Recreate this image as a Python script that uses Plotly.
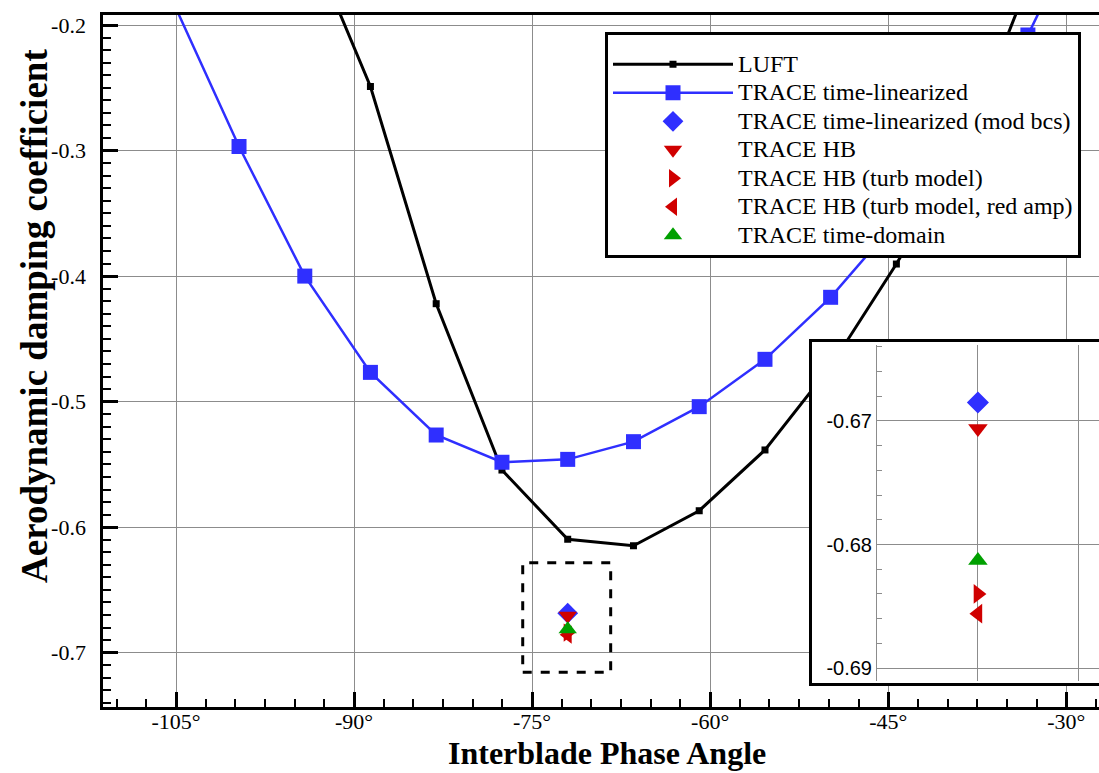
import plotly.graph_objects as go

W, H = 1099, 773

# ---------------- data ----------------
luft_x = [-94.15, -88.62, -83.08, -77.54, -72.00, -66.46, -60.92, -55.38, -49.85, -44.31, -38.77, -33.23]
luft_y = [-0.124, -0.249, -0.422, -0.5545, -0.6097, -0.6148, -0.5869, -0.5385, -0.472, -0.3904, -0.300, -0.167]

tl_x = [-105.23, -99.69, -94.15, -88.62, -83.08, -77.54, -72.00, -66.46, -60.92, -55.38, -49.85, -44.31, -38.77, -33.23, -27.69]
tl_y = [-0.182, -0.2968, -0.400, -0.4767, -0.5266, -0.5483, -0.546, -0.5319, -0.504, -0.4663, -0.4169, -0.3564, -0.288, -0.208, -0.10]

pt_x = [-72.00]
tl_mod_y = [-0.6685]
hb_y = [-0.6706]
hb_turb_y = [-0.6840]
hb_turb_red_y = [-0.6856]
td_y = [-0.6813]

series_names = ["LUFT", "TRACE time-linearized", "TRACE time-linearized (mod bcs)", "TRACE HB",
                "TRACE HB (turb model)", "TRACE HB (turb model, red amp)", "TRACE time-domain"]

x_tickvals = [-105, -90, -75, -60, -45, -30]
x_ticktext = ["-105°", "-90°", "-75°", "-60°", "-45°", "-30°"]
y_tickvals = [-0.7, -0.6, -0.5, -0.4, -0.3, -0.2]
y_ticktext = ["-0.7", "-0.6", "-0.5", "-0.4", "-0.3", "-0.2"]
inset_tickvals = [-0.69, -0.68, -0.67]
inset_ticktext = ["-0.69", "-0.68", "-0.67"]

zoom_box = dict(x0=-75.79, x1=-68.38, y0=-0.7156, y1=-0.6283)

# ---------------- styles ----------------
BLUE = "#2f2fff"
RED = "#d00000"
GREEN = "#00a000"
GRID = "#8c8c8c"
SERIF = "Liberation Serif, Times New Roman, serif"
SANS = "Liberation Sans, Arial, sans-serif"


def px_x(p):
    return p / W


def px_y(p):
    return 1 - p / H


def leg(name):
    return '<span style="font-size:24px">' + name + '</span>'


fig = go.Figure()

point_series = [
    (series_names[2], tl_mod_y, "diamond", BLUE),
    (series_names[3], hb_y, "triangle-down", RED),
    (series_names[4], hb_turb_y, "triangle-right", RED),
    (series_names[5], hb_turb_red_y, "triangle-left", RED),
    (series_names[6], td_y, "triangle-up", GREEN),
]

fig.add_trace(go.Scatter(x=luft_x, y=luft_y, name=leg(series_names[0]), mode="lines+markers",
                         line=dict(color="black", width=3),
                         marker=dict(symbol="square", size=7, color="black"),
                         xaxis="x", yaxis="y"))
fig.add_trace(go.Scatter(x=tl_x, y=tl_y, name=leg(series_names[1]), mode="lines+markers",
                         line=dict(color=BLUE, width=2.5),
                         marker=dict(symbol="square", size=15, color=BLUE),
                         xaxis="x", yaxis="y"))
for name, yv, sym, col in point_series:
    fig.add_trace(go.Scatter(x=pt_x, y=yv, name=leg(name), mode="markers",
                             marker=dict(symbol=sym, size=16, color=col),
                             xaxis="x", yaxis="y"))

# frame subplot (white box of the inset)
fig.add_trace(go.Scatter(x=[None], y=[None], showlegend=False, hoverinfo="skip",
                         xaxis="x2", yaxis="y2"))
# inset data
for name, yv, sym, col in point_series:
    fig.add_trace(go.Scatter(x=pt_x, y=yv, name=name, mode="markers", showlegend=False,
                             marker=dict(symbol=sym, size=17, color=col),
                             xaxis="x3", yaxis="y3"))

main_tick = dict(ticks="inside", ticklen=15, tickwidth=3, tickcolor="black",
                 showline=True, linewidth=3, linecolor="black",
                 showgrid=True, gridcolor=GRID, gridwidth=1, zeroline=False,
                 tickfont=dict(family=SERIF, size=22, color="black"), automargin=False)

fig.update_layout(
    width=W, height=H, autosize=False,
    margin=dict(l=0, r=0, t=0, b=0),
    paper_bgcolor="white", plot_bgcolor="white",
    font=dict(family=SERIF, color="black"),
    xaxis=dict(domain=[px_x(103.3), 1.0], range=[-111.125, -27.24], anchor="y",
               tickmode="array", tickvals=x_tickvals, ticktext=x_ticktext, mirror=True,
               ticklabelstandoff=-7,
               minor=dict(dtick=2.5, tick0=-105, ticks="inside", ticklen=8, tickwidth=1.5,
                          tickcolor="black", showgrid=False),
               **main_tick),
    yaxis=dict(domain=[px_y(706.7), px_y(15)], range=[-0.74301, -0.19203], anchor="x",
               tickmode="array", tickvals=y_tickvals, ticktext=y_ticktext, mirror=False,
               ticklabelstandoff=10,
               minor=dict(dtick=0.01, tick0=-0.7, ticks="inside", ticklen=8, tickwidth=1.5,
                          tickcolor="black", showgrid=False),
               **main_tick),
    xaxis2=dict(domain=[px_x(812), 1.0], range=[0, 1], anchor="y2",
                showline=True, mirror=True, linewidth=3, linecolor="black",
                showgrid=False, zeroline=False, showticklabels=False, ticks=""),
    yaxis2=dict(domain=[px_y(683), px_y(342)], range=[0, 1], anchor="x2",
                showline=True, mirror=False, linewidth=3, linecolor="black",
                showgrid=False, zeroline=False, showticklabels=False, ticks=""),
    xaxis3=dict(domain=[px_x(877), 1.0], range=[-73, -70.80], anchor="y3",
                tickmode="array", tickvals=[-73, -72, -71], showticklabels=False, ticks="",
                showgrid=True, gridcolor=GRID, gridwidth=1, zeroline=False, showline=False),
    yaxis3=dict(domain=[px_y(681), px_y(345)], range=[-0.69105, -0.66385], anchor="x3",
                tickmode="array", tickvals=inset_tickvals, ticktext=inset_ticktext,
                ticks="inside", ticklen=8, tickwidth=1, tickcolor=GRID,
                minor=dict(dtick=0.002, tick0=-0.69, ticks="inside", ticklen=5, tickwidth=1,
                           tickcolor=GRID, showgrid=False),
                showline=True, linewidth=1, linecolor=GRID,
                showgrid=True, gridcolor=GRID, gridwidth=1, zeroline=False,
                tickfont=dict(family=SANS, size=20, color="black"), automargin=False),
    legend=dict(x=px_x(605), y=px_y(31.7), xanchor="left", yanchor="top",
                bgcolor="white", bordercolor="black", borderwidth=3,
                font=dict(family=SERIF, size=19.6, color="black"),
                title=dict(text=" ", font=dict(size=8)),
                itemwidth=120, tracegroupgap=0),
    showlegend=True,
)

fig.add_shape(type="rect", xref="x", yref="y", layer="above",
              x0=zoom_box["x0"], x1=zoom_box["x1"], y0=zoom_box["y0"], y1=zoom_box["y1"],
              line=dict(color="black", width=3, dash="dash"))

fig.add_annotation(text="<b>Interblade Phase Angle</b>", xref="paper", yref="paper",
                   x=px_x(607), y=px_y(753), xanchor="center", yanchor="middle",
                   showarrow=False, font=dict(family=SERIF, size=32, color="black"))
fig.add_annotation(text="<b>Aerodynamic damping coefficient</b>", xref="paper", yref="paper",
                   x=px_x(34), y=px_y(316), xanchor="center", yanchor="middle", textangle=-90,
                   showarrow=False, font=dict(family=SERIF, size=37, color="black"))

fig.write_html("out.html")
